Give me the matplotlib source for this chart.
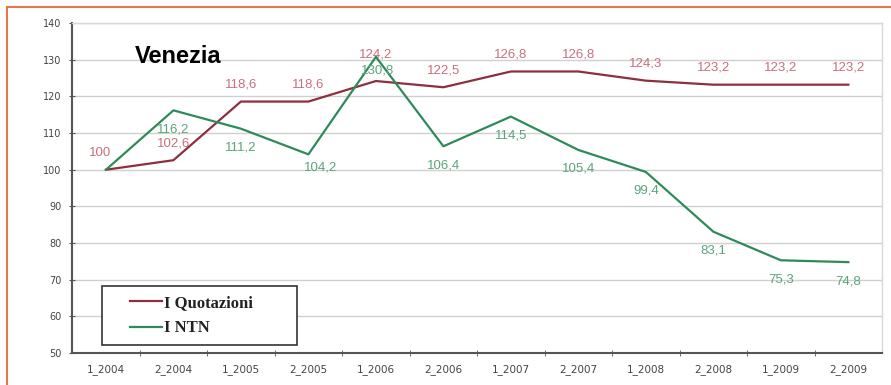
import matplotlib.pyplot as plt
from matplotlib.lines import Line2D
from matplotlib.patches import Rectangle

# dati (numeri indice, base 1_2004 = 100)
periodi = ['1_2004', '2_2004', '1_2005', '2_2005', '1_2006', '2_2006',
           '1_2007', '2_2007', '1_2008', '2_2008', '1_2009', '2_2009']
quotazioni = [100, 102.6, 118.6, 118.6, 124.2, 122.5,
              126.8, 126.8, 124.3, 123.2, 123.2, 123.2]
ntn = [100, 116.2, 111.2, 104.2, 130.8, 106.4,
       114.5, 105.4, 99.4, 83.1, 75.3, 74.8]

col_q = '#8e2f3f'
col_q_lab = '#c8707c'
col_n = '#2f8a5a'
col_n_lab = '#5aa57c'

fig = plt.figure(figsize=(8.91, 3.85), dpi=100)
ax = fig.add_axes([0.081, 0.083, 0.909, 0.857])

x = list(range(len(periodi)))
ax.plot(x, quotazioni, color=col_q, lw=1.6, label='I Quotazioni')
ax.plot(x, ntn, color=col_n, lw=1.6, label='I NTN')

def fmt(v):
    return ('%g' % v).replace('.', ',')

# etichette dei valori (il primo 100 del NTN coincide con quello delle quotazioni)
q_off = [(-6, 17)] + [(0, 17)] * 11
q_off[4] = (0, 27)
n_off = [(0, -19)] * 12
n_off[3] = (12, -13)
n_off[4] = (2, -14)
for i, v in enumerate(quotazioni):
    ax.annotate(fmt(v), (x[i], v), xytext=q_off[i], textcoords='offset pixels',
                ha='center', va='center', color=col_q_lab, fontsize=9.5,
                family='Liberation Sans')
for i, v in enumerate(ntn):
    if i == 0:
        continue
    ax.annotate(fmt(v), (x[i], v), xytext=n_off[i], textcoords='offset pixels',
                ha='center', va='center', color=col_n_lab, fontsize=9.5,
                family='Liberation Sans')

ax.set_xlim(-0.5, len(periodi) - 0.5)
ax.set_ylim(50, 140)
ax.set_yticks(range(50, 141, 10))
ax.set_xticks(x)
ax.set_xticklabels(periodi, fontsize=7.5, color='#444444')
ax.set_xticks([i + 0.5 for i in x[:-1]], minor=True)
ax.tick_params(axis='x', which='major', length=0, pad=8)
ax.tick_params(axis='x', which='minor', length=4, direction='inout', color='#555555')
ax.tick_params(axis='y', length=5, direction='inout', color='#555555',
               labelsize=7, labelcolor='#444444', pad=5)
ax.yaxis.grid(True, color='#d0d0d0', lw=1)
ax.set_axisbelow(True)
for s in ['left', 'bottom']:
    ax.spines[s].set_color('#555555')
    ax.spines[s].set_linewidth(1.5)
for s in ['top', 'right']:
    ax.spines[s].set_color('#d8d8d8')
    ax.spines[s].set_linewidth(1)

ax.text(0.077, 0.9, 'Venezia', transform=ax.transAxes, fontsize=17,
        fontweight='bold', family='Liberation Sans', va='center')

# legenda: riquadro disegnato a parte, voci spostate verso destra
ax.add_patch(Rectangle((0.037, 0.024), 0.24, 0.179, transform=ax.transAxes,
                       fill=True, facecolor='white', edgecolor='#333333',
                       lw=1.2, zorder=4))
leg = ax.legend(loc='center left', bbox_to_anchor=(0.072, 0.113),
                prop={'family': 'Liberation Serif', 'weight': 'bold', 'size': 12},
                frameon=False, handlelength=1.9, handletextpad=0.1,
                labelspacing=0.55, borderpad=0, borderaxespad=0)
leg.set_zorder(5)
for t in leg.get_texts():
    t.set_color('#222222')

# cornice arancione
fig.add_artist(Line2D([7 / 891, 7 / 891], [0, 1 - 7 / 385], color='#e07a4a', lw=1.5))
fig.add_artist(Line2D([7 / 891, 1], [1 - 7 / 385, 1 - 7 / 385], color='#e07a4a', lw=1.5))

fig.savefig('out.png', dpi=100)
